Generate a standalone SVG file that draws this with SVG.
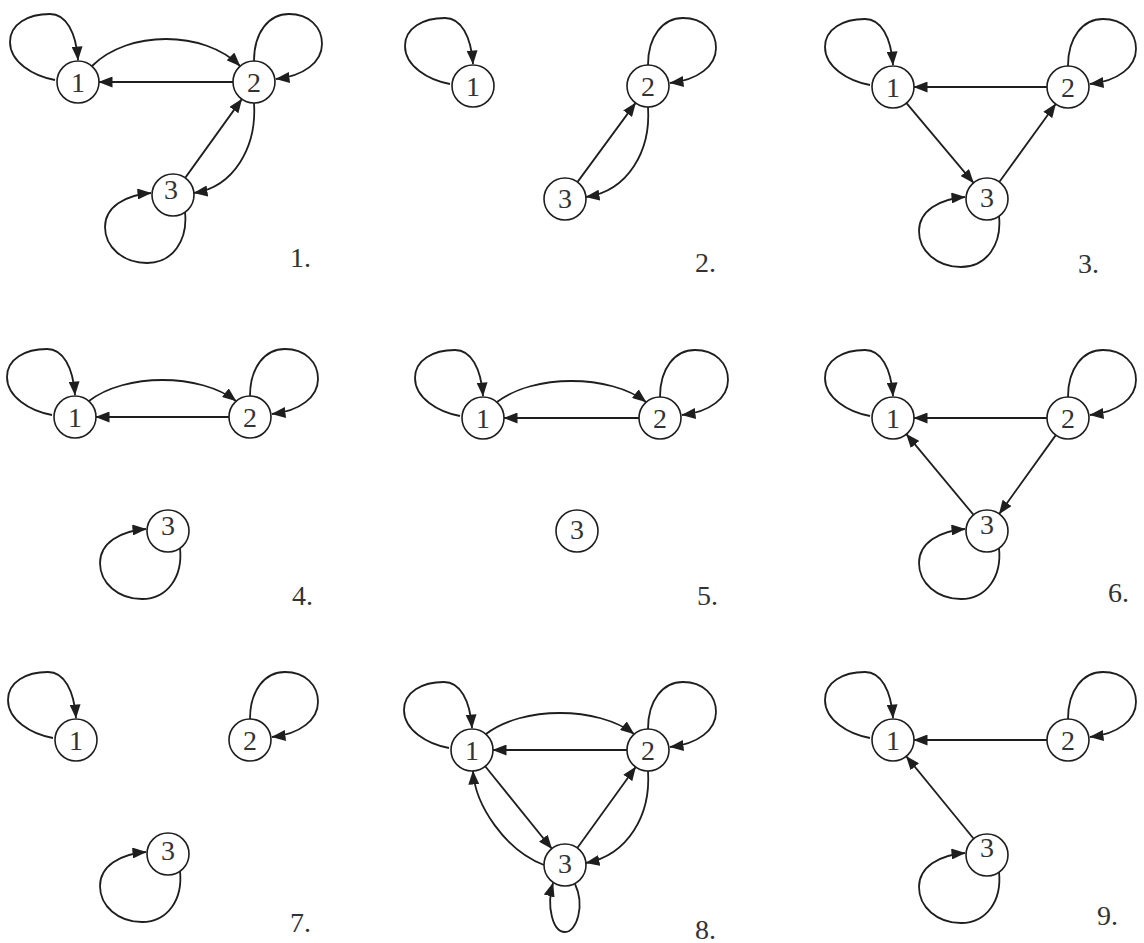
<svg xmlns="http://www.w3.org/2000/svg" width="1144" height="943" viewBox="0 0 1144 943">
<style>
.e{fill:none;stroke:#1e1e1e;stroke-width:1.8;marker-end:url(#ah)}
.n circle{fill:#fff;stroke:#1e1e1e;stroke-width:1.6}
.n text,.lbl{font-family:"Liberation Serif","Times New Roman",serif;font-size:28px;fill:#333}
.n text{text-anchor:middle}
</style>
<defs>
<marker id="ah" viewBox="0 0 14 11" refX="13.5" refY="5.5" markerWidth="14" markerHeight="11" markerUnits="userSpaceOnUse" orient="auto">
<path d="M0,0 L14,5.5 L0,11 z" fill="#1e1e1e"/>
</marker>
</defs>
<rect width="1144" height="943" fill="#fff"/>
<g id="connectors">
<!-- panel 1 -->
<path class="e" transform="translate(78,82)" d="M-23,-2 C-45,-6 -68,-20 -68,-40 C-68,-58 -50,-68 -28,-68 C-12,-68 -2,-50 0,-22"/>
<path class="e" transform="translate(254,82)" d="M0,-21 C0,-50 15,-68 35,-68 C55,-68 68,-55 68,-38 C68,-20 50,-6 22,-3"/>
<path class="e" transform="translate(173,195)" d="M12,17 C15,45 0,68 -26,68 C-50,68 -68,52 -68,32 C-68,12 -48,0 -22,-2"/>
<path class="e" d="M92,66 C128,30 204,30 240,66"/>
<path class="e" d="M233,82 L99,82"/>
<path class="e" d="M185.2,177.9 L241.8,99.1"/>
<path class="e" d="M254,103 C257,147 234,187 194,193"/>
<!-- panel 2 -->
<path class="e" transform="translate(473,86)" d="M-23,-2 C-45,-6 -68,-20 -68,-40 C-68,-58 -50,-68 -28,-68 C-12,-68 -2,-50 0,-22"/>
<path class="e" transform="translate(648,86)" d="M0,-21 C0,-50 15,-68 35,-68 C55,-68 68,-55 68,-38 C68,-20 50,-6 22,-3"/>
<path class="e" d="M577.4,182.1 L635.6,102.9"/>
<path class="e" d="M648,107 C651,151 628,191 586,197"/>
<!-- panel 3 -->
<path class="e" transform="translate(893,87)" d="M-23,-2 C-45,-6 -68,-20 -68,-40 C-68,-58 -50,-68 -28,-68 C-12,-68 -2,-50 0,-22"/>
<path class="e" transform="translate(1068,87)" d="M0,-21 C0,-50 15,-68 35,-68 C55,-68 68,-55 68,-38 C68,-20 50,-6 22,-3"/>
<path class="e" transform="translate(987,199)" d="M12,17 C15,45 0,68 -26,68 C-50,68 -68,52 -68,32 C-68,12 -48,0 -22,-2"/>
<path class="e" d="M1047,87 L914,87"/>
<path class="e" d="M906.5,103.1 L973.5,182.9"/>
<path class="e" d="M999.3,182 L1055.7,104"/>
<!-- panel 4 -->
<path class="e" transform="translate(75,417)" d="M-23,-2 C-45,-6 -68,-20 -68,-40 C-68,-58 -50,-68 -28,-68 C-12,-68 -2,-50 0,-22"/>
<path class="e" transform="translate(250,417)" d="M0,-21 C0,-50 15,-68 35,-68 C55,-68 68,-55 68,-38 C68,-20 50,-6 22,-3"/>
<path class="e" transform="translate(168,531)" d="M12,17 C15,45 0,68 -26,68 C-50,68 -68,52 -68,32 C-68,12 -48,0 -22,-2"/>
<path class="e" d="M89,401 C125,373 200,373 236,401"/>
<path class="e" d="M229,417 L96,417"/>
<!-- panel 5 -->
<path class="e" transform="translate(483,418)" d="M-23,-2 C-45,-6 -68,-20 -68,-40 C-68,-58 -50,-68 -28,-68 C-12,-68 -2,-50 0,-22"/>
<path class="e" transform="translate(660,418)" d="M0,-21 C0,-50 15,-68 35,-68 C55,-68 68,-55 68,-38 C68,-20 50,-6 22,-3"/>
<path class="e" d="M497,402 C533,374 610,374 646,402"/>
<path class="e" d="M639,418 L504,418"/>
<!-- panel 6 -->
<path class="e" transform="translate(893,418)" d="M-23,-2 C-45,-6 -68,-20 -68,-40 C-68,-58 -50,-68 -28,-68 C-12,-68 -2,-50 0,-22"/>
<path class="e" transform="translate(1068,418)" d="M0,-21 C0,-50 15,-68 35,-68 C55,-68 68,-55 68,-38 C68,-20 50,-6 22,-3"/>
<path class="e" transform="translate(987,531)" d="M12,17 C15,45 0,68 -26,68 C-50,68 -68,52 -68,32 C-68,12 -48,0 -22,-2"/>
<path class="e" d="M1047,418 L914,418"/>
<path class="e" d="M1055.8,435.1 L999.2,513.9"/>
<path class="e" d="M973.6,514.9 L906.4,434.1"/>
<!-- panel 7 -->
<path class="e" transform="translate(76,740)" d="M-23,-2 C-45,-6 -68,-20 -68,-40 C-68,-58 -50,-68 -28,-68 C-12,-68 -2,-50 0,-22"/>
<path class="e" transform="translate(250,740)" d="M0,-21 C0,-50 15,-68 35,-68 C55,-68 68,-55 68,-38 C68,-20 50,-6 22,-3"/>
<path class="e" transform="translate(168,854)" d="M12,17 C15,45 0,68 -26,68 C-50,68 -68,52 -68,32 C-68,12 -48,0 -22,-2"/>
<!-- panel 8 -->
<path class="e" transform="translate(472,750)" d="M-23,-2 C-45,-6 -68,-20 -68,-40 C-68,-58 -50,-68 -28,-68 C-12,-68 -2,-50 0,-22"/>
<path class="e" transform="translate(648,750)" d="M0,-21 C0,-50 15,-68 35,-68 C55,-68 68,-55 68,-38 C68,-20 50,-6 22,-3"/>
<path class="e" transform="translate(565,865)" d="M10,19 C20,40 12,67 0,67 C-12,67 -19,42 -12,18"/>
<path class="e" d="M486,734 C522,706 598,706 634,734"/>
<path class="e" d="M627,750 L493,750"/>
<path class="e" d="M485.2,766.3 L551.8,848.7"/>
<path class="e" d="M577.3,848 L635.7,767"/>
<path class="e" d="M648,771 C651,815 628,855 586,863"/>
<path class="e" d="M544,865 C505,850 475,805 473,771"/>
<!-- panel 9 -->
<path class="e" transform="translate(893,740)" d="M-23,-2 C-45,-6 -68,-20 -68,-40 C-68,-58 -50,-68 -28,-68 C-12,-68 -2,-50 0,-22"/>
<path class="e" transform="translate(1068,740)" d="M0,-21 C0,-50 15,-68 35,-68 C55,-68 68,-55 68,-38 C68,-20 50,-6 22,-3"/>
<path class="e" transform="translate(987,855)" d="M12,17 C15,45 0,68 -26,68 C-50,68 -68,52 -68,32 C-68,12 -48,0 -22,-2"/>
<path class="e" d="M1047,740 L914,740"/>
<path class="e" d="M973.7,838.7 L906.3,756.3"/>
</g>
<!-- nodes -->
<g id="p1n1" class="n"><circle cx="78" cy="82" r="21"/><text x="78" y="91.5">1</text></g>
<g id="p1n2" class="n"><circle cx="254" cy="82" r="21"/><text x="254" y="91.5">2</text></g>
<g id="p1n3" class="n"><circle cx="173" cy="195" r="21"/><text x="171" y="199">3</text></g>
<g id="p2n1" class="n"><circle cx="473" cy="86" r="21"/><text x="473" y="95.5">1</text></g>
<g id="p2n2" class="n"><circle cx="648" cy="86" r="21"/><text x="648" y="95.5">2</text></g>
<g id="p2n3" class="n"><circle cx="565" cy="199" r="21"/><text x="565" y="208">3</text></g>
<g id="p3n1" class="n"><circle cx="893" cy="87" r="21"/><text x="893" y="96.5">1</text></g>
<g id="p3n2" class="n"><circle cx="1068" cy="87" r="21"/><text x="1068" y="96.5">2</text></g>
<g id="p3n3" class="n"><circle cx="987" cy="199" r="21"/><text x="987" y="207">3</text></g>
<g id="p4n1" class="n"><circle cx="75" cy="417" r="21"/><text x="75" y="426.5">1</text></g>
<g id="p4n2" class="n"><circle cx="250" cy="417" r="21"/><text x="250" y="426.5">2</text></g>
<g id="p4n3" class="n"><circle cx="168" cy="531" r="21"/><text x="168" y="535">3</text></g>
<g id="p5n1" class="n"><circle cx="483" cy="418" r="21"/><text x="483" y="427.5">1</text></g>
<g id="p5n2" class="n"><circle cx="660" cy="418" r="21"/><text x="660" y="427.5">2</text></g>
<g id="p5n3" class="n"><circle cx="577" cy="531" r="21"/><text x="577" y="539">3</text></g>
<g id="p6n1" class="n"><circle cx="893" cy="418" r="21"/><text x="893" y="427.5">1</text></g>
<g id="p6n2" class="n"><circle cx="1068" cy="418" r="21"/><text x="1068" y="427.5">2</text></g>
<g id="p6n3" class="n"><circle cx="987" cy="531" r="21"/><text x="987" y="534">3</text></g>
<g id="p7n1" class="n"><circle cx="76" cy="740" r="21"/><text x="76" y="749.5">1</text></g>
<g id="p7n2" class="n"><circle cx="250" cy="740" r="21"/><text x="250" y="749.5">2</text></g>
<g id="p7n3" class="n"><circle cx="168" cy="854" r="21"/><text x="168" y="860">3</text></g>
<g id="p8n1" class="n"><circle cx="472" cy="750" r="21"/><text x="472" y="759.5">1</text></g>
<g id="p8n2" class="n"><circle cx="648" cy="750" r="21"/><text x="648" y="759.5">2</text></g>
<g id="p8n3" class="n"><circle cx="565" cy="865" r="21"/><text x="565" y="873">3</text></g>
<g id="p9n1" class="n"><circle cx="893" cy="740" r="21"/><text x="893" y="749.5">1</text></g>
<g id="p9n2" class="n"><circle cx="1068" cy="740" r="21"/><text x="1068" y="749.5">2</text></g>
<g id="p9n3" class="n"><circle cx="987" cy="855" r="21"/><text x="987" y="857">3</text></g>
<g id="labels">
<text class="lbl" x="290" y="267">1.</text>
<text class="lbl" x="695" y="272">2.</text>
<text class="lbl" x="1078" y="273">3.</text>
<text class="lbl" x="292" y="605">4.</text>
<text class="lbl" x="697" y="605">5.</text>
<text class="lbl" x="1108" y="602">6.</text>
<text class="lbl" x="290" y="932">7.</text>
<text class="lbl" x="695" y="939">8.</text>
<text class="lbl" x="1097" y="925">9.</text>
</g>
</svg>
